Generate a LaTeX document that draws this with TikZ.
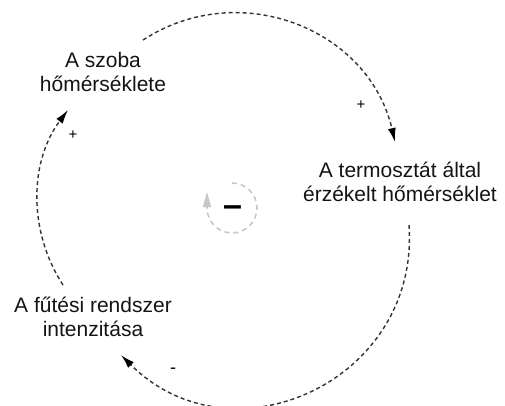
\documentclass[tikz,border=0pt]{standalone}
\usepackage{fontspec}
\setmainfont{Liberation Sans}
\usetikzlibrary{arrows.meta}

\begin{document}
\begin{tikzpicture}[x=1pt, y=1pt,
  var/.style={align=center, text=black!92, inner sep=0pt, font=\fontsize{21}{24}\selectfont},
  pol/.style={inner sep=0pt, text=black, font=\fontsize{15}{15}\selectfont},
  link/.style={draw=black!80, line width=1.4pt, dash pattern=on 4pt off 3pt,
    -{Latex[length=14pt,width=8pt,black]}},
  loopsym/.style={draw=black!22, line width=1.6pt, dash pattern=on 5pt off 4pt}]
\useasboundingbox (0,0) rectangle (505,405);

% Variablen
\node[var] (szoba) at (103,333) {A szoba\\hőmérséklete};
\node[var] (termo) at (400,223) {A termosztát által\\érzékelt hőmérséklet};
\node[var] (futes) at (93,88) {A fűtési rendszer\\intenzitása};

% Pfeilenden
\coordinate (p1) at (143,365);
\coordinate (q1) at (395,263);
\coordinate (p2) at (409,180);
\coordinate (q2) at (121,50);
\coordinate (p3) at (63,120);
\coordinate (q3) at (68,295);

% Pfeile
\draw[link] (p1) to[out=33,in=103,looseness=1.09] (q1);
\draw[link] (p2) to[out=-86,in=-45,looseness=1.27] (q2);
\draw[link] (p3) to[out=123,in=233,looseness=0.94] (q3);

% Polaritaet
\node[pol] (plus1) at (361,300) {+};
\node[pol] (plus2) at (73,270) {+};
\node[pol, font=\fontsize{18}{18}\selectfont] (minus1) at (173,34) {-};

% Schleife
\draw[loopsym, -{Triangle[length=15pt,width=8pt]}] (232,222)
  arc[start angle=90, end angle=-180, radius=25] -- ++(0,16);
\node[inner sep=0pt] (loop) at (232.5,194) {\fontsize{34}{34}\selectfont\bfseries –};

\end{tikzpicture}
\end{document}
